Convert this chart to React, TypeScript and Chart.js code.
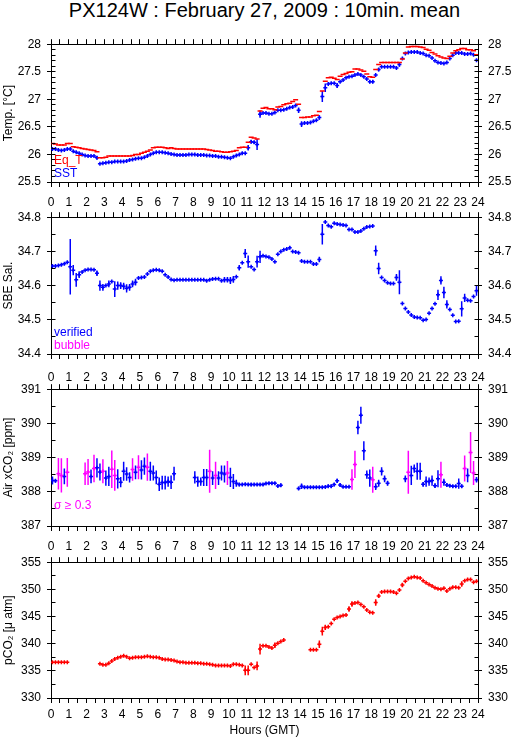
import React, { useEffect, useRef } from "react";
import { Chart, registerables } from "chart.js";

Chart.register(...registerables);

const FONT = '"Liberation Sans", Arial, Helvetica, sans-serif';
const TITLE = "PX124W : February 27, 2009 : 10min. mean";
const X_LABEL = "Hours (GMT)";
const HOUR_TICKS = ["0","1","2","3","4","5","6","7","8","9","10","11","12","13","14","15","16","17","18","19","20","21","22","23","24"];

const BLUE = "#0000ff";
const RED = "#ff0000";
const MAGENTA = "#ff00ff";

// centres of the 10-minute averaging bins, in hours
const BIN_HOURS: number[] = Array.from({ length: 144 }, (_, i) => (i + 0.5) / 6);

// ---------------- Panel 1 : temperatures ----------------
const EQ_T: (number | null)[] = [
  26.20, 26.19, 26.17, 26.17, 26.17, 26.20,
  26.20, 26.14, 26.13, 26.12, 26.11, 26.10,
  26.09, 26.08, 26.07, 26.05, 25.94, 25.94,
  25.95, 25.97, 25.97, 25.97, 25.97, 25.97,
  25.97, 25.97, 25.97, 25.98, 26.00, 26.00,
  26.02, 26.04, 26.06, 26.08, 26.12, 26.13,
  26.13, 26.13, 26.12, 26.11, 26.12, 26.11,
  26.10, 26.10, 26.10, 26.10, 26.10, 26.10,
  26.10, 26.10, 26.10, 26.10, 26.09, 26.08,
  26.07, 26.06, 26.06, 26.05, 26.04, 26.04,
  26.05, 26.06, 26.07, 26.12, 26.13, 26.13,
  26.22, 26.31, 26.30, 26.28, 26.79, 26.84,
  26.85, 26.83, 26.83, 26.81, 26.86, 26.87,
  26.90, 26.92, 26.93, 26.96, 26.99, 26.91,
  26.67, 26.67, 26.68, 26.68, 26.70, 26.71,
  26.78, 27.15, 27.33, 27.39, 27.40, 27.38,
  27.36, 27.42, 27.45, 27.47, 27.49, 27.50,
  27.55, 27.55, 27.53, 27.51, 27.46, 27.41,
  27.40, 27.54, 27.63, 27.67, 27.67, 27.67,
  27.67, 27.67, 27.67, 27.67, 27.73, 27.84,
  27.95, 27.96, 27.96, 27.96, 27.95, 27.94,
  27.91, 27.89, 27.85, 27.82, 27.79, 27.77,
  27.75, 27.74, 27.78, 27.84, 27.88, 27.90,
  27.92, 27.92, 27.90, 27.90, 27.88, 27.81,
];

const SST: (number | null)[] = [
  26.10, 26.10, 26.08, 26.07, 26.08, 26.10,
  26.10, 26.06, 26.04, 26.02, 26.00, 25.98,
  25.97, 25.97, 25.97, 25.94, 25.83, 25.84,
  25.85, 25.86, 25.86, 25.87, 25.87, 25.87,
  25.87, 25.88, 25.90, 25.91, 25.92, 25.93,
  25.93, 25.95, 25.97, 26.00, 26.02, 26.04,
  26.04, 26.04, 26.03, 26.02, 26.01, 26.00,
  25.99, 25.99, 25.99, 25.99, 26.00, 26.00,
  26.00, 25.99, 25.99, 25.99, 25.98, 25.98,
  25.97, 25.97, 25.96, 25.96, 25.95, 25.94,
  25.93, 25.96, 25.98, 26.00, 26.02, 26.02,
  26.12, 26.23, 26.22, 26.18, 26.73, 26.75,
  26.75, 26.74, 26.74, 26.76, 26.80, 26.80,
  26.81, 26.83, 26.85, 26.86, 26.89, 26.80,
  26.55, 26.57, 26.57, 26.58, 26.60, 26.62,
  26.67, 27.05, 27.21, 27.28, 27.29, 27.29,
  27.25, 27.32, 27.35, 27.39, 27.41, 27.42,
  27.44, 27.46, 27.44, 27.41, 27.37, 27.32,
  27.32, 27.44, 27.54, 27.59, 27.59, 27.59,
  27.59, 27.59, 27.57, 27.63, 27.74, 27.83,
  27.85, 27.86, 27.86, 27.86, 27.84, 27.83,
  27.80, 27.79, 27.75, 27.70, 27.67, 27.66,
  27.65, 27.67, 27.74, 27.80, 27.84, 27.84,
  27.84, 27.82, 27.82, 27.83, 27.81, 27.71,
];

const SST_ERR: number[] = [
  0, 0, 0, 0, 0, 0,
  0, 0, 0, 0, 0, 0,
  0, 0, 0, 0.03, 0, 0,
  0, 0, 0, 0, 0, 0,
  0, 0, 0, 0, 0, 0,
  0, 0, 0, 0, 0, 0,
  0, 0, 0, 0, 0, 0,
  0, 0, 0, 0, 0, 0,
  0, 0, 0, 0, 0, 0,
  0, 0, 0, 0, 0, 0,
  0, 0, 0, 0, 0.02, 0,
  0.05, 0.03, 0.03, 0.1, 0.066, 0,
  0, 0, 0, 0, 0, 0,
  0, 0, 0, 0, 0, 0.05,
  0.05, 0, 0, 0, 0, 0,
  0.04, 0.1, 0.075, 0, 0, 0,
  0.045, 0, 0, 0, 0, 0,
  0, 0, 0, 0, 0, 0.03,
  0.03, 0, 0.03, 0, 0, 0,
  0, 0, 0, 0.04, 0, 0,
  0, 0, 0, 0, 0, 0,
  0, 0, 0, 0, 0, 0,
  0, 0, 0, 0, 0, 0,
  0, 0, 0, 0, 0, 0.02,
];

// ---------------- Panel 2 : salinity ----------------
const SAL: (number | null)[] = [
  34.657, 34.657, 34.659, 34.661, 34.664, 34.668,
  34.655, 34.645, 34.617, 34.632, 34.640, 34.645,
  34.647, 34.647, 34.646, 34.636, 34.600, 34.595,
  34.600, 34.605, 34.612, 34.590, 34.600, 34.600,
  34.598, 34.592, 34.595, 34.605, 34.610, 34.622,
  34.624, 34.625, 34.634, 34.642, 34.645, 34.646,
  34.645, 34.642, 34.632, 34.625, 34.618, 34.616,
  34.617, 34.617, 34.617, 34.617, 34.617, 34.617,
  34.617, 34.617, 34.617, 34.617, 34.614, 34.617,
  34.619, 34.620, 34.620, 34.614, 34.617, 34.617,
  34.615, 34.618, 34.626, 34.652, 34.667, 34.694,
  34.670, 34.655, 34.647, 34.670, 34.684, 34.687,
  34.685, 34.683, 34.678, 34.670, 34.692, 34.700,
  34.705, 34.707, 34.711, 34.700, 34.698, 34.696,
  34.672, 34.670, 34.670, 34.670, 34.663, 34.663,
  34.676, 34.750, 34.786, 34.776, 34.772, 34.782,
  34.780, 34.779, 34.777, 34.776, 34.764, 34.764,
  34.757, 34.757, 34.760, 34.766, 34.771, 34.773,
  34.774, 34.702, 34.650, 34.624, 34.615, 34.608,
  34.606, 34.606, 34.624, 34.610, 34.548, 34.533,
  34.523, 34.514, 34.508, 34.507, 34.506, 34.499,
  34.501, 34.519, 34.533, 34.547, 34.573, 34.615,
  34.580, 34.545, 34.530, 34.513, 34.495, 34.496,
  34.532, 34.564, 34.557, 34.556, 34.568, 34.585,
];

const SAL_ERR: number[] = [
  0, 0, 0, 0, 0, 0,
  0.081, 0.015, 0.02, 0.01, 0, 0,
  0, 0, 0, 0.008, 0.015, 0.01,
  0, 0.01, 0, 0.023, 0.012, 0.01,
  0.01, 0.012, 0.01, 0.01, 0.01, 0,
  0, 0, 0, 0, 0, 0,
  0, 0, 0, 0, 0, 0,
  0, 0, 0, 0, 0, 0,
  0, 0, 0, 0, 0, 0,
  0, 0, 0, 0, 0.008, 0.008,
  0.01, 0.01, 0, 0.008, 0, 0.013,
  0.018, 0, 0, 0.017, 0.018, 0,
  0, 0, 0, 0, 0, 0,
  0, 0, 0.005, 0, 0, 0,
  0, 0, 0, 0, 0, 0,
  0.008, 0.03, 0, 0, 0, 0,
  0, 0, 0, 0, 0, 0,
  0, 0, 0, 0, 0, 0,
  0, 0.015, 0.017, 0, 0, 0,
  0, 0, 0.01, 0.035, 0, 0,
  0, 0, 0, 0, 0, 0,
  0, 0, 0, 0, 0.015, 0.012,
  0.017, 0.012, 0, 0, 0, 0,
  0.022, 0.012, 0, 0, 0, 0.015,
];

// ---------------- Panel 3 : atmospheric xCO2 ----------------
const XCO2: (number | null)[] = [
  388.33, 388.32, 388.53, 388.48, 388.45, 388.57,
  null, null, null, null, null, 388.53,
  388.58, 388.45, 388.68, 388.70, 388.58, 388.60,
  388.40, 388.45, 388.66, 388.48, 388.38, 388.28,
  388.60, 388.52, 388.42, 388.65, 388.57, 388.72,
  388.64, 388.75, 388.72, 388.60, 388.55, 388.42,
  388.22, 388.27, 388.27, 388.30, 388.28, 388.53,
  null, null, null, null, null, null,
  388.42, 388.30, 388.30, 388.42, 388.42, 388.60,
  388.40, 388.48, 388.40, 388.55, 388.52, 388.55,
  388.42, 388.30, 388.25, 388.21, 388.21, 388.22,
  388.21, 388.21, 388.21, 388.21, 388.21, 388.21,
  388.24, 388.25, 388.25, 388.25, 388.17, 388.19,
  null, null, null, null, null, 388.10,
  388.16, 388.13, 388.13, 388.13, 388.13, 388.13,
  388.13, 388.13, 388.14, 388.16, 388.16, 388.21,
  388.32, 388.20, 388.15, 388.15, 388.15, 388.36,
  388.80, 389.88, 390.24, 389.20, 388.50, 388.40,
  388.35, 388.15, 388.25, 388.60, 388.38, 388.25,
  null, null, null, null, null, 388.38,
  388.57, 388.48, 388.68, 388.60, 388.60, 388.22,
  388.30, 388.30, 388.33, 388.18, 388.38, 388.50,
  388.28, 388.20, 388.18, 388.16, 388.16, 388.24,
  388.16, 388.68, 388.48, 389.15, 388.55, 388.35,
];

const XCO2_SIGMA: number[] = [
  0.12, 0.05, 0.46, 0.5, 0.23, 0.42,
  0, 0, 0, 0, 0, 0.33,
  0.38, 0.2, 0.4, 0.28, 0.25, 0.35,
  0.22, 0.28, 0.55, 0.45, 0.28, 0.15,
  0.28, 0.2, 0.15, 0.33, 0.2, 0.35,
  0.28, 0.25, 0.4, 0.28, 0.22, 0.2,
  0.2, 0.2, 0.2, 0.15, 0.2, 0.2,
  0, 0, 0, 0, 0, 0,
  0.18, 0.15, 0.12, 0.25, 0.25, 0.63,
  0.2, 0.4, 0.2, 0.22, 0.25, 0.35,
  0.28, 0.22, 0.1, 0.05, 0.03, 0.03,
  0.03, 0.05, 0.03, 0.03, 0.03, 0.03,
  0.03, 0.04, 0.04, 0.04, 0.04, 0.05,
  0, 0, 0, 0, 0, 0.05,
  0.08, 0.03, 0.03, 0.03, 0.03, 0.03,
  0.03, 0.03, 0.03, 0.05, 0.05, 0.05,
  0.06, 0.05, 0.03, 0.03, 0.03, 0.3,
  0.4, 0.2, 0.25, 0.28, 0.12, 0.25,
  0.38, 0.1, 0.1, 0.12, 0.1, 0.07,
  0, 0, 0, 0, 0, 0.1,
  0.63, 0.28, 0.12, 0.25, 0.25, 0.07,
  0.15, 0.12, 0.15, 0.07, 0.25, 0.38,
  0.1, 0.05, 0.04, 0.04, 0.04, 0.15,
  0.05, 0.38, 0.2, 0.6, 0.35, 0.08,
];
const SIGMA_LIMIT = 0.3;

// ---------------- Panel 4 : seawater pCO2 ----------------
const PCO2: (number | null)[] = [
  336.6, 336.6, 336.6, 336.6, 336.6, 336.6,
  null, null, null, null, null, null,
  null, null, null, null, 336.3, 336.1,
  336.1, 336.4, 336.8, 337.2, 337.4, 337.6,
  337.8, 337.6, 337.3, 337.4, 337.5, 337.5,
  337.5, 337.6, 337.7, 337.6, 337.5, 337.5,
  337.4, 337.2, 337.1, 337.1, 337.0, 336.9,
  336.7, 336.6, 336.6, 336.5, 336.5, 336.5,
  336.5, 336.4, 336.4, 336.3, 336.3, 336.2,
  336.1, 336.0, 336.0, 336.0, 336.0, 336.0,
  335.9, 336.2, 336.2, 336.1, 336.0, 335.1,
  335.1, 336.2, 335.6, 335.9, 339.0, 339.6,
  339.6, 339.4, 339.2, 339.7, 340.1, 340.4,
  340.7, null, null, null, null, null,
  null, null, null, 338.9, 338.9, 338.9,
  339.9, 342.3, 343.0, 343.1, 343.7, 344.5,
  344.8, 345.0, 345.2, 345.3, 346.4, 347.3,
  347.5, 347.6, 347.2, 346.8, 346.2, 345.8,
  345.7, 347.6, 348.8, 349.5, 349.6, 349.6,
  349.6, 349.5, 349.3, 349.9, 350.8, 351.5,
  352.0, 352.2, 352.3, 352.2, 352.1, 351.6,
  351.2, 350.9, 350.6, 350.3, 350.1, 350.0,
  350.2, 349.7, 350.1, 350.4, 350.4, 350.3,
  351.0, 351.6, 351.8, 351.8, 351.3, 351.5,
];

const PCO2_ERR: number[] = [
  0, 0, 0, 0, 0, 0,
  0, 0, 0, 0, 0, 0,
  0, 0, 0, 0, 0, 0,
  0, 0, 0, 0, 0, 0,
  0, 0, 0, 0, 0, 0,
  0, 0, 0, 0, 0, 0,
  0, 0, 0, 0, 0, 0,
  0, 0, 0, 0, 0, 0,
  0, 0, 0, 0, 0, 0,
  0, 0, 0, 0, 0, 0,
  0, 0, 0, 0, 0, 0.9,
  0.9, 0, 0, 0.8, 1.0, 0,
  0, 0, 0, 0.5, 0, 0,
  0, 0, 0, 0, 0, 0,
  0, 0, 0, 0, 0, 0,
  0.7, 0.8, 0.5, 0, 0, 0,
  0, 0, 0, 0, 0.5, 0.5,
  0, 0, 0, 0, 0, 0,
  0, 0.6, 0.4, 0, 0, 0,
  0, 0, 0, 0, 0.4, 0,
  0, 0, 0, 0, 0, 0,
  0, 0, 0, 0, 0, 0,
  0, 0, 0, 0, 0, 0,
  0.5, 0, 0, 0, 0, 0,
];

// ---------------- layout ----------------
const W = 515;
const H = 739;
const PLOT_LEFT = 51;
const PLOT_RIGHT = 478;
const TOP_H = 12;

type Pt = { x: number; y: number | null };

function toPoints(vals: (number | null)[], keep?: (i: number) => boolean): Pt[] {
  const out: Pt[] = [];
  vals.forEach((v, i) => {
    if (v !== null && (!keep || keep(i))) out.push({ x: BIN_HOURS[i], y: v });
  });
  return out;
}

function toErrorBars(vals: (number | null)[], errs: number[], keep?: (i: number) => boolean): Pt[] {
  const out: Pt[] = [];
  vals.forEach((v, i) => {
    const e = errs[i];
    if (v !== null && e > 0 && (!keep || keep(i))) {
      out.push({ x: BIN_HOURS[i], y: v - e }, { x: BIN_HOURS[i], y: v + e }, { x: BIN_HOURS[i], y: null });
    }
  });
  return out;
}

function markers(vals: (number | null)[], color: string, style: string, radius: number, width: number, keep?: (i: number) => boolean) {
  return {
    type: "scatter",
    xAxisID: "x",
    yAxisID: "y",
    data: toPoints(vals, keep),
    showLine: false,
    pointStyle: style,
    pointRadius: radius,
    pointHoverRadius: radius,
    pointBorderWidth: width,
    pointBorderColor: color,
    pointBackgroundColor: color,
    borderColor: color,
    backgroundColor: color,
  };
}

function errorBars(vals: (number | null)[], errs: number[], color: string, width: number, keep?: (i: number) => boolean) {
  return {
    type: "line",
    xAxisID: "x",
    yAxisID: "y",
    data: toErrorBars(vals, errs, keep),
    borderColor: color,
    backgroundColor: color,
    borderWidth: width,
    pointRadius: 0,
    spanGaps: false,
    fill: false,
    tension: 0,
  };
}

const isBubble = (i: number) => XCO2_SIGMA[i] >= SIGMA_LIMIT;
const isClean = (i: number) => XCO2_SIGMA[i] < SIGMA_LIMIT;

type Note = { text: string; color: string; dx: number; dy: number };
type PanelSpec = {
  key: string;
  plotTop: number;
  plotH: number;
  bottomH: number;
  xPad: number;
  xTitle: boolean;
  yMin: number;
  yMax: number;
  yStep: number;
  yMinor: number;
  yTitle: string;
  datasets: any[];
  notes: Note[];
};

const PANELS: PanelSpec[] = [
  {
    key: "temp",
    plotTop: 43,
    plotH: 139,
    bottomH: 32,
    xPad: 8.5,
    xTitle: false,
    yMin: 25.5,
    yMax: 28,
    yStep: 0.5,
    yMinor: 0.1,
    yTitle: "Temp. [°C]",
    datasets: [
      markers(EQ_T, RED, "line", 2.5, 1.5),
      errorBars(SST, SST_ERR, BLUE, 1.5),
      markers(SST, BLUE, "cross", 2, 1.5),
    ],
    notes: [
      { text: "Eq_T", color: RED, dx: 3, dy: 18 },
      { text: "SST", color: BLUE, dx: 3, dy: 5.5 },
    ],
  },
  {
    key: "sal",
    plotTop: 216,
    plotH: 138,
    bottomH: 33,
    xPad: 11.5,
    xTitle: false,
    yMin: 34.4,
    yMax: 34.8,
    yStep: 0.1,
    yMinor: 0.05,
    yTitle: "SBE Sal.",
    datasets: [errorBars(SAL, SAL_ERR, BLUE, 1.5), markers(SAL, BLUE, "cross", 2, 1.5)],
    notes: [
      { text: "verified", color: BLUE, dx: 3, dy: 18 },
      { text: "bubble", color: MAGENTA, dx: 3, dy: 5 },
    ],
  },
  {
    key: "xco2",
    plotTop: 388,
    plotH: 138,
    bottomH: 32,
    xPad: 8.5,
    xTitle: false,
    yMin: 387,
    yMax: 391,
    yStep: 1,
    yMinor: 0.5,
    yTitle: "Air xCO₂ [ppm]",
    datasets: [
      errorBars(XCO2, XCO2_SIGMA, MAGENTA, 1.5, isBubble),
      errorBars(XCO2, XCO2_SIGMA, BLUE, 1.5, isClean),
      markers(XCO2, MAGENTA, "cross", 2, 1.5, isBubble),
      markers(XCO2, BLUE, "cross", 2, 1.5, isClean),
    ],
    notes: [{ text: "σ ≥ 0.3", color: MAGENTA, dx: 3, dy: 17.5 }],
  },
  {
    key: "pco2",
    plotTop: 561,
    plotH: 137,
    bottomH: 40,
    xPad: 4.5,
    xTitle: true,
    yMin: 330,
    yMax: 355,
    yStep: 5,
    yMinor: 2.5,
    yTitle: "pCO₂ [μ atm]",
    datasets: [errorBars(PCO2, PCO2_ERR, RED, 1.5), markers(PCO2, RED, "cross", 2, 1.5)],
    notes: [],
  },
];

const innerTicksPlugin = {
  id: "innerTicks",
  afterDraw(chart: any, _args: any, opts: any) {
    const { ctx, chartArea } = chart;
    const ys = chart.scales.y;
    const n = Math.round((opts.max - opts.min) / opts.minor);
    const left = Math.round(chartArea.left - 0.5) + 0.5;
    const right = Math.round(chartArea.right - 0.5) + 0.5;
    ctx.save();
    ctx.strokeStyle = "#000";
    ctx.lineWidth = 1;
    ctx.beginPath();
    for (let k = 0; k <= n; k++) {
      const v = opts.min + k * opts.minor;
      const py = Math.round(ys.getPixelForValue(v) - 0.5) + 0.5;
      ctx.moveTo(left, py);
      ctx.lineTo(left + opts.len, py);
      ctx.moveTo(right, py);
      ctx.lineTo(right - opts.len, py);
    }
    ctx.stroke();
    ctx.restore();
  },
};

const notesPlugin = {
  id: "notes",
  afterDraw(chart: any, _args: any, opts: any) {
    const { ctx, chartArea } = chart;
    ctx.save();
    ctx.font = `12px ${FONT}`;
    ctx.textAlign = "left";
    ctx.textBaseline = "alphabetic";
    for (const it of opts.items || []) {
      ctx.fillStyle = it.color;
      ctx.fillText(it.text, chartArea.left + it.dx, chartArea.bottom - it.dy);
    }
    ctx.restore();
  },
};

const tickFont = { family: FONT, size: 12 };

function xAxis(position: "top" | "bottom", s: PanelSpec) {
  const bottom = position === "bottom";
  return {
    type: "linear",
    position,
    min: 0,
    max: 24,
    ticks: {
      stepSize: 0.5,
      autoSkip: false,
      maxRotation: 0,
      minRotation: 0,
      padding: s.xPad,
      color: "#000",
      font: tickFont,
      callback: (v: number) => (bottom && Number.isInteger(v) ? HOUR_TICKS[v] : ""),
    },
    grid: { display: true, drawOnChartArea: false, drawTicks: true, tickLength: 5, color: "#000", lineWidth: 1 },
    border: { display: true, color: "#000", width: 1 },
    title:
      bottom && s.xTitle
        ? { display: true, text: X_LABEL, color: "#000", font: tickFont, padding: { top: 0, bottom: 0 } }
        : { display: false },
    afterFit: (sc: any) => {
      sc.height = bottom ? s.bottomH : TOP_H;
    },
  };
}

function yAxis(position: "left" | "right", s: PanelSpec) {
  const left = position === "left";
  return {
    type: "linear",
    position,
    min: s.yMin,
    max: s.yMax,
    ticks: {
      stepSize: s.yStep,
      padding: 6,
      color: "#000",
      font: tickFont,
      callback: (v: number) => String(Math.round(v * 1000) / 1000),
    },
    grid: { display: true, drawOnChartArea: false, drawTicks: true, tickLength: 4, color: "#000", lineWidth: 1 },
    border: { display: true, color: "#000", width: 1 },
    title: left
      ? { display: true, text: s.yTitle, color: "#000", font: tickFont, padding: { top: 1, bottom: 0 } }
      : { display: false },
    afterFit: (sc: any) => {
      sc.width = left ? PLOT_LEFT : W - PLOT_RIGHT;
    },
  };
}

function buildConfig(s: PanelSpec): any {
  return {
    type: "scatter",
    data: { datasets: s.datasets },
    plugins: [innerTicksPlugin, notesPlugin],
    options: {
      responsive: false,
      maintainAspectRatio: false,
      animation: false,
      events: [],
      layout: { padding: 0 },
      plugins: {
        legend: { display: false },
        tooltip: { enabled: false },
        title: { display: false },
        innerTicks: { min: s.yMin, max: s.yMax, minor: s.yMinor, len: 4 },
        notes: { items: s.notes },
      },
      scales: {
        x: xAxis("bottom", s),
        x2: xAxis("top", s),
        y: yAxis("left", s),
        y2: yAxis("right", s),
      },
    },
  };
}

function Panel({ spec }: { spec: PanelSpec }) {
  const ref = useRef<HTMLCanvasElement>(null);
  const canvasH = TOP_H + spec.plotH + spec.bottomH;
  useEffect(() => {
    if (!ref.current) return;
    const chart = new Chart(ref.current, buildConfig(spec));
    return () => chart.destroy();
  }, [spec]);
  return (
    <canvas
      ref={ref}
      width={W}
      height={canvasH}
      style={{ position: "absolute", left: 0, top: spec.plotTop - TOP_H, width: W, height: canvasH }}
    />
  );
}

export default function App() {
  return (
    <div
      style={{
        position: "absolute",
        left: 0,
        top: 0,
        width: W,
        height: H,
        overflow: "hidden",
        background: "#fff",
      }}
    >
      <div
        style={{
          position: "absolute",
          left: PLOT_LEFT,
          width: PLOT_RIGHT - PLOT_LEFT,
          top: 0,
          textAlign: "center",
          fontFamily: FONT,
          fontSize: 20,
          lineHeight: "20px",
          color: "#000",
          whiteSpace: "nowrap",
        }}
      >
        {TITLE}
      </div>
      {PANELS.map((p) => (
        <Panel key={p.key} spec={p} />
      ))}
    </div>
  );
}
